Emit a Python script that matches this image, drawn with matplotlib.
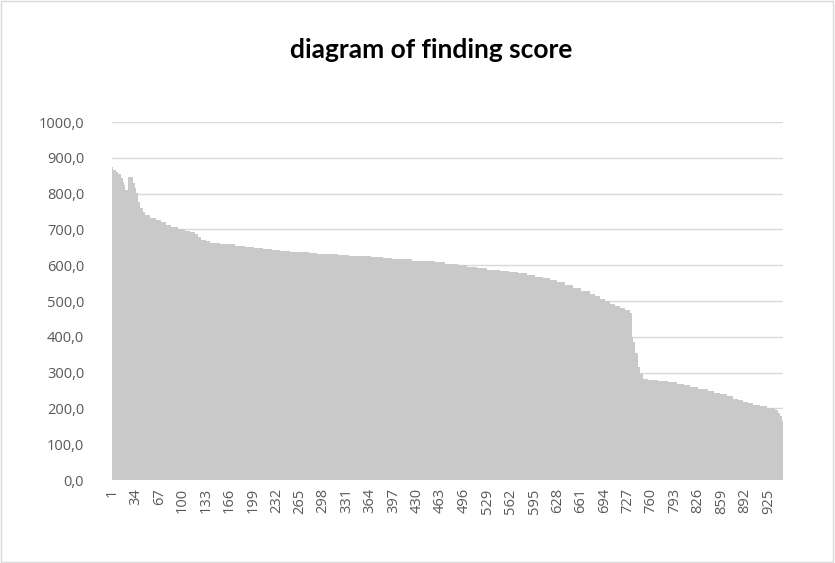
import numpy as np
import matplotlib
matplotlib.use("Agg")
import matplotlib.pyplot as plt
from matplotlib.patches import Rectangle

# finding scores, sorted descending as (value, number of bars) runs
run_values = [873, 866, 860, 856, 843, 833, 824, 810, 845, 829, 815, 801, 777, 760,
              750, 740, 733, 727, 720, 712, 706, 700, 695, 692, 688, 678, 670, 667,
              663, 661, 659, 658, 655, 652, 649, 646, 643, 641, 638, 636, 634, 631,
              630, 628, 626, 625, 623, 621, 618, 616, 613, 611, 608, 604, 600, 595,
              591, 587, 583, 580, 577, 573, 568, 563, 558, 552, 545, 537, 528, 520,
              514, 506, 500, 492, 487, 481, 476, 466, 400, 385, 355, 315, 295, 283,
              280, 278, 276, 273, 268, 264, 259, 254, 248, 244, 239, 234, 227, 223,
              217, 214, 210, 206, 202, 200, 195, 188, 178, 165]
run_counts = [1, 4, 4, 4, 2, 2, 2, 3, 7, 3, 2, 3, 3, 3,
              4, 6, 9, 7, 7, 7, 10, 10, 7, 7, 4, 4, 7, 6,
              7, 7, 7, 14, 14, 13, 13, 12, 12, 14, 14, 12, 12, 14,
              15, 16, 15, 16, 17, 12, 12, 17, 18, 14, 14, 18, 13, 14,
              14, 18, 13, 13, 13, 11, 11, 10, 10, 11, 11, 12, 12, 7,
              7, 7, 7, 7, 7, 7, 7, 3, 2, 3, 4, 3, 4, 7,
              7, 7, 14, 13, 9, 9, 12, 13, 9, 8, 10, 9, 7, 7,
              7, 7, 10, 10, 6, 5, 4, 3, 2, 2]

scores = np.repeat(run_values, run_counts)
n = len(scores)
labels = np.arange(1, n + 1)

y_ticks = np.arange(0, 1001, 100)
x_tick_step = 33

fig = plt.figure(figsize=(8.35, 5.63), dpi=100)
ax = fig.add_axes([0.1341, 0.1474, 0.8036, 0.6359])

ax.bar(np.arange(n), scores, width=1.0, color="#c9c9c9", linewidth=0, zorder=2)

ax.set_xlim(-0.5, n - 0.5)
ax.set_ylim(0, 1000)
ax.set_yticks(y_ticks)
ax.set_yticklabels([f"{v:.1f}".replace(".", ",") for v in y_ticks])
xt = np.arange(0, n, x_tick_step)
ax.set_xticks(xt)
ax.set_xticklabels([str(labels[i]) for i in xt], rotation=90)

ax.grid(axis="y", color="#d9d9d9", linewidth=1.0, zorder=0)
for s in ["top", "right", "left", "bottom"]:
    ax.spines[s].set_visible(False)
ax.tick_params(axis="both", length=0, labelsize=10.5, colors="#595959")
ax.tick_params(axis="y", pad=20)
ax.tick_params(axis="x", pad=6)
for t in ax.get_xticklabels() + ax.get_yticklabels():
    t.set_fontfamily("Open Sans")

fig.text(0.516, 0.911, "diagram of finding score", ha="center", va="center",
         fontsize=19, fontweight="bold", fontfamily="Lato", color="black")

# chart area border
fig.patches.append(Rectangle((0.001, 0.001), 0.997, 0.997, transform=fig.transFigure,
                             fill=False, edgecolor="#d9d9d9", linewidth=1))

fig.savefig("out.png", dpi=100)
